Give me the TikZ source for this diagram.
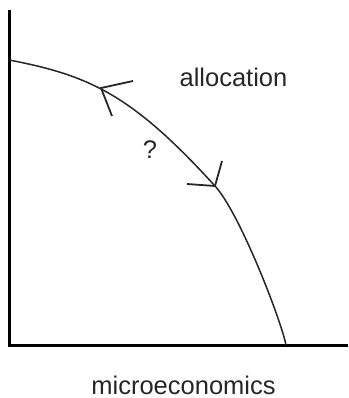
\documentclass[tikz,border=0pt]{standalone}
\usepackage{fontspec}
\setmainfont{Liberation Sans}
\begin{document}
\begin{tikzpicture}[x=1pt,y=-1pt,
  axis/.style={line width=3pt},
  curve/.style={line width=1.5pt, black!85},
  barb/.style={line width=1.8pt, black!85},
  lbl/.style={font=\fontsize{25.5}{28}\selectfont, text=black!85, anchor=base, inner sep=0pt}]
\useasboundingbox (0,0) rectangle (348,398);
% axes
\coordinate (top) at (9,10);
\coordinate (origin) at (9,345);
\coordinate (right) at (348,345);
\draw[axis] (top) -- (origin) -- (right);
% frontier curve
\coordinate (c0) at (9,60);
\coordinate (c1) at (215,186);
\coordinate (c2) at (286,345);
\draw[curve] (c0) .. controls (91,75.6) and (133,96) .. (c1)
                  .. controls (240,213.5) and (281,320) .. (c2);
% arrow barbs
\coordinate (t1) at (101,88);
\coordinate (t1a) at (133,81);
\coordinate (t1b) at (112,116);
\draw[barb] (t1a) -- (t1) -- (t1b);
\coordinate (t2a) at (222,161);
\coordinate (t2b) at (187,184);
\draw[barb] (t2a) -- (c1) -- (t2b);
% labels
\node[lbl] (alloc) at (233.5,87) {allocation};
\node[lbl] (q) at (150,158) {?};
\node[lbl] (micro) at (183.5,394) {microeconomics};
\end{tikzpicture}
\end{document}
